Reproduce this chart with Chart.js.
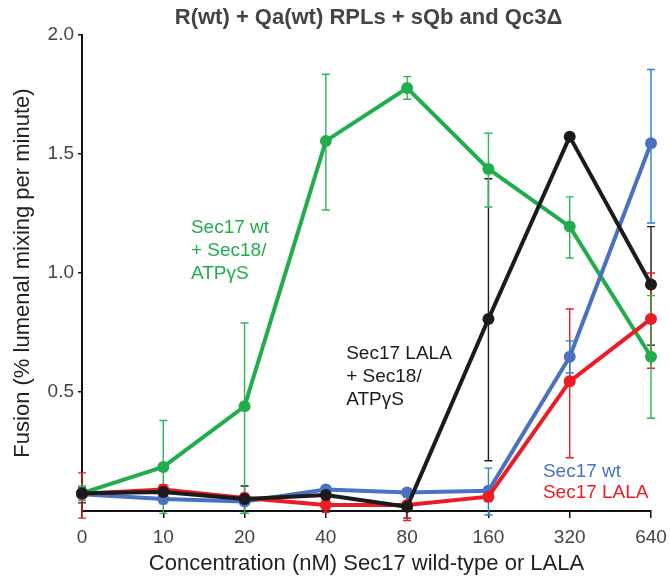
<!DOCTYPE html>
<html>
<head>
<meta charset="utf-8">
<script src="https://cdn.jsdelivr.net/npm/chart.js@4/dist/chart.umd.min.js"></script>
<style>
  html, body { margin: 0; padding: 0; background: #fff; }
  #wrap { width: 670px; height: 579px; position: relative; }
</style>
</head>
<body>
<div id="wrap"><canvas id="chart"></canvas></div>
<script>
// x categories (nM Sec17)
const concentrations = ['0', '10', '20', '40', '80', '160', '320', '640'];
const yTicks = [0.5, 1.0, 1.5, 2.0];

// Sec17 wt + Sec18/ATPγS (green)
const wtAtp = [0.075, 0.185, 0.44, 1.555, 1.777, 1.437, 1.195, 0.648];
const wtAtpLow = [0.045, -0.01, -0.01, 1.265, 1.73, 1.277, 1.063, 0.39];
const wtAtpHigh = [0.105, 0.38, 0.79, 1.835, 1.825, 1.587, 1.32, 0.905];

// Sec17 LALA + Sec18/ATPγS (black)
const lalaAtp = [0.075, 0.08, 0.05, 0.067, 0.018, 0.807, 1.573, 0.952];
const lalaAtpLow = [0.034, 0.06, -0.01, 0.05, -0.03, 0.211, 1.56, 0.697];
const lalaAtpHigh = [0.097, 0.1, 0.105, 0.085, 0.06, 1.396, 1.585, 1.195];

// Sec17 wt (blue)
const wt = [0.07, 0.05, 0.04, 0.09, 0.078, 0.085, 0.648, 1.545];
const wtLow = [0.06, 0.03, 0.03, 0.08, 0.07, -0.017, 0.58, 1.21];
const wtHigh = [0.08, 0.07, 0.05, 0.1, 0.086, 0.18, 0.715, 1.855];

// Sec17 LALA (red)
const lala = [0.072, 0.09, 0.055, 0.025, 0.025, 0.06, 0.545, 0.807];
const lalaLow = [-0.03, 0.07, 0.035, -0.005, -0.04, 0.04, 0.224, 0.6];
const lalaHigh = [0.16, 0.11, 0.075, 0.045, 0.06, 0.09, 0.849, 1.0];

const TITLE = 'R(wt) + Qa(wt) RPLs + sQb and Qc3Δ';
const FONT = '"Liberation Sans", Arial, Helvetica, sans-serif';
const C = {
  green: '#1fae4b',
  black: '#1b1b1b',
  blue: '#4a72c0',
  red: '#ec1c24',
  tick: '#444',
  axis: '#111',
};

// in-plot labels, anchored in data units (x as category index)
const notes = [
  { lines: ['Sec17 wt', '+ Sec18/', 'ATPγS'], color: C.green, x: 1.34, y: 1.19 },
  { lines: ['Sec17 LALA', '+ Sec18/', 'ATPγS'], color: C.black, x: 3.25, y: 0.66 },
  { lines: ['Sec17 wt'], color: C.blue, x: 5.67, y: 0.164 },
  { lines: ['Sec17 LALA'], color: C.red, x: 5.67, y: 0.076 },
];

const errorBars = {
  id: 'errorBars',
  beforeDatasetsDraw(chart) {
    const { ctx, scales: { y } } = chart;
    ctx.save();
    ctx.lineWidth = 1.4;
    chart.data.datasets.forEach((ds, i) => {
      const meta = chart.getDatasetMeta(i);
      ctx.strokeStyle = ds.errColor || ds.borderColor;
      meta.data.forEach((pt, j) => {
        const top = y.getPixelForValue(ds.errHigh[j]);
        const bot = y.getPixelForValue(ds.errLow[j]);
        ctx.beginPath();
        ctx.moveTo(pt.x, top);
        ctx.lineTo(pt.x, bot);
        ctx.moveTo(pt.x - 4, top);
        ctx.lineTo(pt.x + 4, top);
        ctx.moveTo(pt.x - 4, bot);
        ctx.lineTo(pt.x + 4, bot);
        ctx.stroke();
      });
    });
    ctx.restore();
  },
};

// notes + title centred over the plot area (not the whole canvas)
const textLayer = {
  id: 'textLayer',
  afterDatasetsDraw(chart) {
    const { ctx, chartArea, scales: { x, y } } = chart;
    ctx.save();
    ctx.font = `19px ${FONT}`;
    ctx.textAlign = 'left';
    ctx.textBaseline = 'middle';
    notes.forEach((n) => {
      ctx.fillStyle = n.color;
      const left = x.getPixelForValue(n.x);
      const top = y.getPixelForValue(n.y);
      n.lines.forEach((line, k) => ctx.fillText(line, left, top + k * 23));
    });

    ctx.font = `bold 22px ${FONT}`;
    ctx.fillStyle = C.tick;
    ctx.textAlign = 'center';
    ctx.fillText(TITLE, (chartArea.left + chartArea.right) / 2 + 2, chartArea.top - 17);
    ctx.restore();
  },
};

function series(label, data, low, high, color, errColor) {
  return {
    label,
    data,
    errLow: low,
    errHigh: high,
    errColor,
    borderColor: color,
    backgroundColor: color,
    borderWidth: 4,
    pointRadius: 6,
    pointBorderWidth: 0,
    pointBackgroundColor: color,
    tension: 0,
    clip: false,
  };
}

new Chart(document.getElementById('chart'), {
  type: 'line',
  data: {
    labels: concentrations,
    datasets: [
      series('Sec17 LALA + Sec18/ATPγS', lalaAtp, lalaAtpLow, lalaAtpHigh, C.black),
      series('Sec17 LALA', lala, lalaLow, lalaHigh, C.red),
      series('Sec17 wt', wt, wtLow, wtHigh, C.blue, '#2a7fcf'),
      series('Sec17 wt + Sec18/ATPγS', wtAtp, wtAtpLow, wtAtpHigh, C.green, '#2db552'),
    ],
  },
  options: {
    responsive: true,
    maintainAspectRatio: false,
    animation: false,
    layout: { padding: { top: 35, right: 19, left: 0, bottom: 0 } },
    plugins: {
      legend: { display: false },
      tooltip: { enabled: false },
      title: { display: false },
    },
    scales: {
      x: {
        offset: false,
        grid: { drawOnChartArea: false, drawTicks: true, tickLength: 7, color: C.axis, lineWidth: 1.5 },
        border: { display: true, color: C.axis, width: 2 },
        ticks: { color: C.tick, font: { family: FONT, size: 19 }, padding: 8, maxRotation: 0, autoSkip: false },
        title: {
          display: true,
          text: 'Concentration (nM) Sec17 wild-type or LALA',
          color: '#222',
          font: { family: FONT, size: 22 },
          padding: { top: 0, bottom: 2 },
        },
        afterFit(scale) {
          scale.height = 68;
          scale.paddingLeft = 0;
          scale.paddingRight = 0;
        },
      },
      y: {
        min: 0,
        max: 2.0,
        afterBuildTicks(scale) { scale.ticks = yTicks.map((v) => ({ value: v })); },
        grid: { drawOnChartArea: false, drawTicks: true, tickLength: 4, color: C.axis, lineWidth: 1.5 },
        border: { display: true, color: C.axis, width: 2 },
        ticks: { color: C.tick, font: { family: FONT, size: 19 }, padding: 4, callback: (v) => Number(v).toFixed(1) },
        title: {
          display: true,
          text: 'Fusion (% lumenal mixing per minute)',
          color: '#222',
          font: { family: FONT, size: 22 },
          padding: { top: 10, bottom: 0 },
        },
        afterFit(scale) { scale.width = 82; },
      },
    },
  },
  plugins: [errorBars, textLayer],
});
</script>
</body>
</html>
